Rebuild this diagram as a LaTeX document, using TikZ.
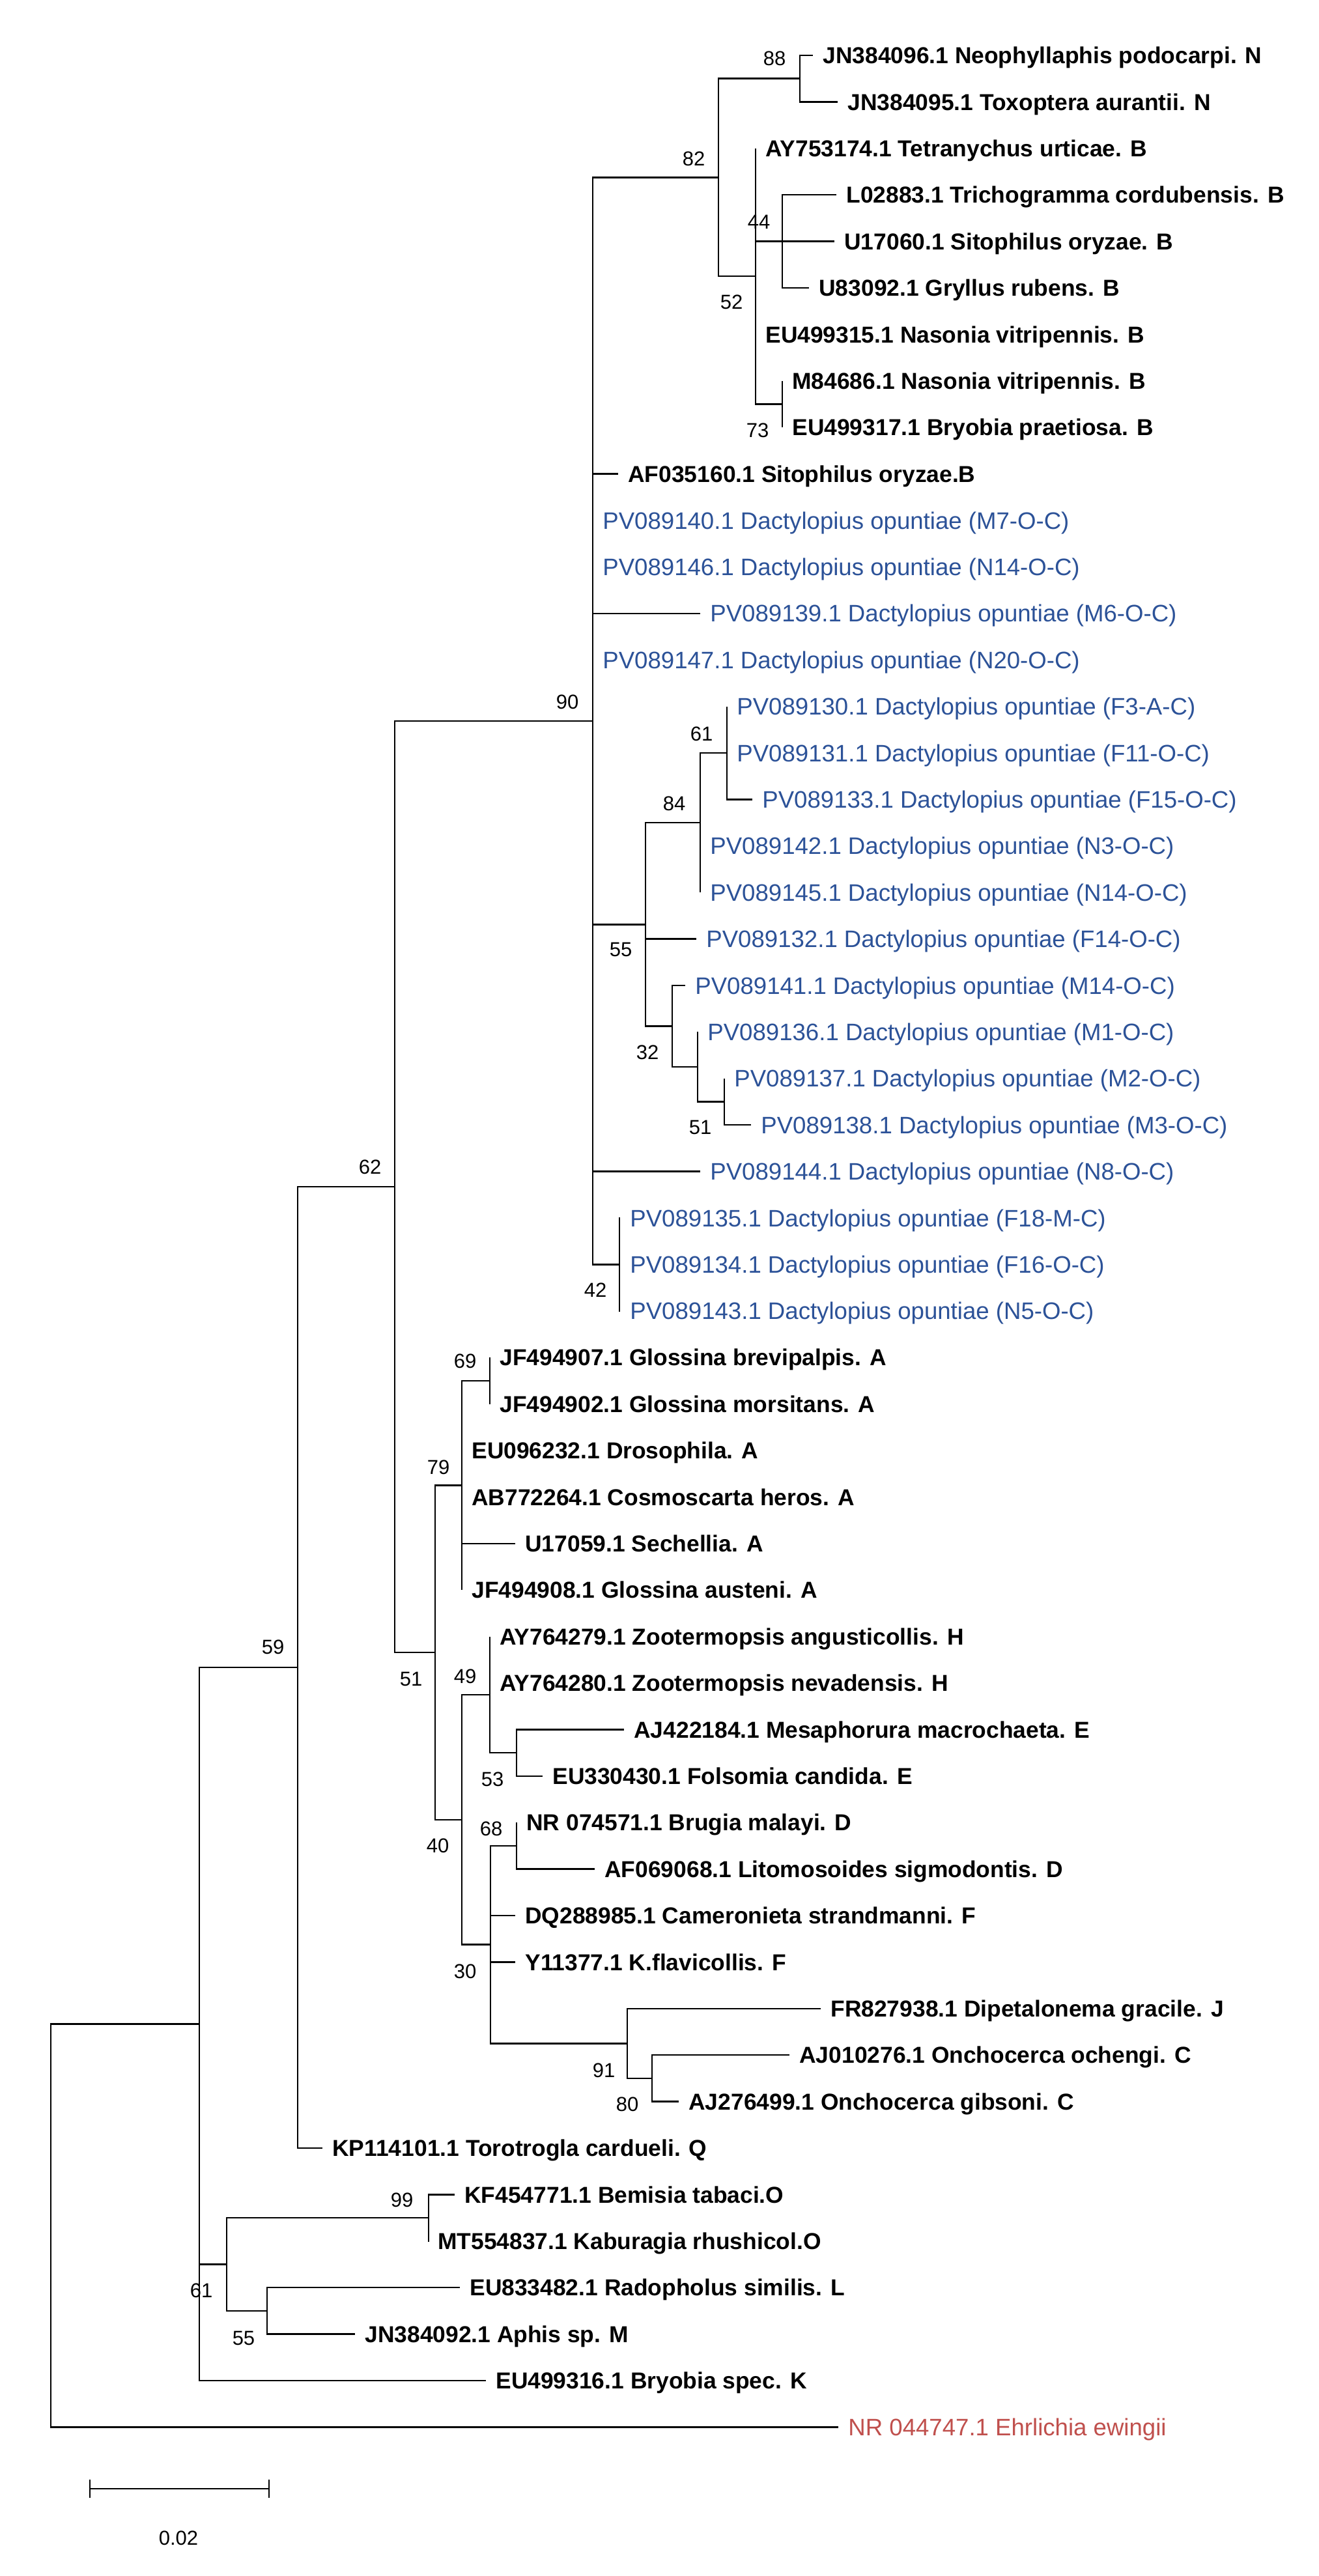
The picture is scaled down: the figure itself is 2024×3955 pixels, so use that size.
\documentclass[tikz,border=0pt]{standalone}
\usepackage{fontspec}
\setmainfont{Liberation Sans}
\definecolor{dblue}{RGB}{44,82,152}
\definecolor{dred}{RGB}{192,80,77}
\begin{document}
\begin{tikzpicture}[x=0.5pt,y=-0.5pt,
  br/.style={line width=1.2pt, black},
  leafb/.style={anchor=west, inner sep=0pt, font=\fontsize{17.7pt}{20pt}\selectfont\bfseries, text height=12.7pt, text depth=0pt},
  leafc/.style={anchor=west, inner sep=0pt, font=\fontsize{18.3pt}{20pt}\selectfont, text=dblue, text height=13.1pt, text depth=0pt},
  leafr/.style={anchor=west, inner sep=0pt, font=\fontsize{18.3pt}{20pt}\selectfont, text=dred, text height=13.1pt, text depth=0pt},
  boot/.style={anchor=center, inner sep=0pt, font=\fontsize{15.5pt}{18pt}\selectfont, text height=11.1pt, text depth=0pt}]
\useasboundingbox[fill=white] (0,0) rectangle (2024,3955);

% internal nodes
\coordinate (root) at (78,3417.0);
\coordinate (nC) at (306,3107.5);
\coordinate (n59) at (457,2560.0);
\coordinate (n62) at (606,1822.0);
\coordinate (n90) at (910,1106.9);
\coordinate (n82) at (1103,272.4);
\coordinate (n88) at (1228,120.7);
\coordinate (n52) at (1160,424.15);
\coordinate (n44) at (1201,370.6);
\coordinate (n73) at (1201,620.5);
\coordinate (n61a) at (1116,1156.0);
\coordinate (n84) at (1075,1263.1);
\coordinate (n55a) at (991,1419.3);
\coordinate (n32) at (1032,1575.5);
\coordinate (nX) at (1071,1637.95);
\coordinate (n51a) at (1112,1691.5);
\coordinate (n42) at (951,1941.4);
\coordinate (n51b) at (668,2537.1);
\coordinate (n79) at (709,2280.55);
\coordinate (n69) at (752,2119.9);
\coordinate (n40) at (709,2793.7);
\coordinate (n49) at (752,2601.85);
\coordinate (n53) at (793,2691.1);
\coordinate (n30) at (753,2985.6);
\coordinate (n68) at (793,2833.9);
\coordinate (n91) at (963,3137.35);
\coordinate (n80) at (1001,3190.9);
\coordinate (n61b) at (348,3476.5);
\coordinate (n99) at (658,3405.1);
\coordinate (n55b) at (410,3547.9);

% leaves
\node[leafb] (L1) at (1263,85.0) {JN384096.1 Neophyllaphis podocarpi. N};
\node[leafb] (L2) at (1301,156.4) {JN384095.1 Toxoptera aurantii. N};
\node[leafb] (L3) at (1175,227.8) {AY753174.1 Tetranychus urticae. B};
\node[leafb] (L4) at (1299,299.2) {L02883.1 Trichogramma cordubensis. B};
\node[leafb] (L5) at (1296,370.6) {U17060.1 Sitophilus oryzae. B};
\node[leafb] (L6) at (1257,442.0) {U83092.1 Gryllus rubens. B};
\node[leafb] (L7) at (1175,513.4) {EU499315.1 Nasonia vitripennis. B};
\node[leafb] (L8) at (1216,584.8) {M84686.1 Nasonia vitripennis. B};
\node[leafb] (L9) at (1216,656.2) {EU499317.1 Bryobia praetiosa. B};
\node[leafb] (L10) at (964,727.6) {AF035160.1 Sitophilus oryzae.B};
\node[leafc] (L11) at (925,799.0) {PV089140.1 Dactylopius opuntiae (M7-O-C)};
\node[leafc] (L12) at (925,870.4) {PV089146.1 Dactylopius opuntiae (N14-O-C)};
\node[leafc] (L13) at (1090,941.8) {PV089139.1 Dactylopius opuntiae (M6-O-C)};
\node[leafc] (L14) at (925,1013.2) {PV089147.1 Dactylopius opuntiae (N20-O-C)};
\node[leafc] (L15) at (1131,1084.6) {PV089130.1 Dactylopius opuntiae (F3-A-C)};
\node[leafc] (L16) at (1131,1156.0) {PV089131.1 Dactylopius opuntiae (F11-O-C)};
\node[leafc] (L17) at (1170,1227.4) {PV089133.1 Dactylopius opuntiae (F15-O-C)};
\node[leafc] (L18) at (1090,1298.8) {PV089142.1 Dactylopius opuntiae (N3-O-C)};
\node[leafc] (L19) at (1090,1370.2) {PV089145.1 Dactylopius opuntiae (N14-O-C)};
\node[leafc] (L20) at (1084,1441.6) {PV089132.1 Dactylopius opuntiae (F14-O-C)};
\node[leafc] (L21) at (1067,1513.0) {PV089141.1 Dactylopius opuntiae (M14-O-C)};
\node[leafc] (L22) at (1086,1584.4) {PV089136.1 Dactylopius opuntiae (M1-O-C)};
\node[leafc] (L23) at (1127,1655.8) {PV089137.1 Dactylopius opuntiae (M2-O-C)};
\node[leafc] (L24) at (1168,1727.2) {PV089138.1 Dactylopius opuntiae (M3-O-C)};
\node[leafc] (L25) at (1090,1798.6) {PV089144.1 Dactylopius opuntiae (N8-O-C)};
\node[leafc] (L26) at (967,1870.0) {PV089135.1 Dactylopius opuntiae (F18-M-C)};
\node[leafc] (L27) at (967,1941.4) {PV089134.1 Dactylopius opuntiae (F16-O-C)};
\node[leafc] (L28) at (967,2012.8) {PV089143.1 Dactylopius opuntiae (N5-O-C)};
\node[leafb] (L29) at (767,2084.2) {JF494907.1 Glossina brevipalpis. A};
\node[leafb] (L30) at (767,2155.6) {JF494902.1 Glossina morsitans. A};
\node[leafb] (L31) at (724,2227.0) {EU096232.1 Drosophila. A};
\node[leafb] (L32) at (724,2298.4) {AB772264.1 Cosmoscarta heros. A};
\node[leafb] (L33) at (806,2369.8) {U17059.1 Sechellia. A};
\node[leafb] (L34) at (724,2441.2) {JF494908.1 Glossina austeni. A};
\node[leafb] (L35) at (767,2512.6) {AY764279.1 Zootermopsis angusticollis. H};
\node[leafb] (L36) at (767,2584.0) {AY764280.1 Zootermopsis nevadensis. H};
\node[leafb] (L37) at (973,2655.4) {AJ422184.1 Mesaphorura macrochaeta. E};
\node[leafb] (L38) at (848,2726.8) {EU330430.1 Folsomia candida. E};
\node[leafb] (L39) at (808,2798.2) {NR 074571.1 Brugia malayi. D};
\node[leafb] (L40) at (928,2869.6) {AF069068.1 Litomosoides sigmodontis. D};
\node[leafb] (L41) at (806,2941.0) {DQ288985.1 Cameronieta strandmanni. F};
\node[leafb] (L42) at (806,3012.4) {Y11377.1 K.flavicollis. F};
\node[leafb] (L43) at (1275,3083.8) {FR827938.1 Dipetalonema gracile. J};
\node[leafb] (L44) at (1227,3155.2) {AJ010276.1 Onchocerca ochengi. C};
\node[leafb] (L45) at (1057,3226.6) {AJ276499.1 Onchocerca gibsoni. C};
\node[leafb] (L46) at (510,3298.0) {KP114101.1 Torotrogla cardueli. Q};
\node[leafb] (L47) at (713,3369.4) {KF454771.1 Bemisia tabaci.O};
\node[leafb] (L48) at (672,3440.8) {MT554837.1 Kaburagia rhushicol.O};
\node[leafb] (L49) at (721,3512.2) {EU833482.1 Radopholus similis. L};
\node[leafb] (L50) at (560,3583.6) {JN384092.1 Aphis sp. M};
\node[leafb] (L51) at (761,3655.0) {EU499316.1 Bryobia spec. K};
\node[leafr] (L52) at (1302,3726.4) {NR 044747.1 Ehrlichia ewingii};

% internal branches
\draw[br] (root) |- (nC);
\draw[br] (nC) |- (n59);
\draw[br] (nC) |- (n61b);
\draw[br] (n59) |- (n62);
\draw[br] (n62) |- (n90);
\draw[br] (n62) |- (n51b);
\draw[br] (n90) |- (n82);
\draw[br] (n90) |- (n55a);
\draw[br] (n90) |- (n42);
\draw[br] (n82) |- (n88);
\draw[br] (n82) |- (n52);
\draw[br] (n52) |- (n44);
\draw[br] (n52) |- (n73);
\draw[br] (n55a) |- (n84);
\draw[br] (n55a) |- (n32);
\draw[br] (n84) |- (n61a);
\draw[br] (n32) |- (nX);
\draw[br] (nX) |- (n51a);
\draw[br] (n51b) |- (n79);
\draw[br] (n51b) |- (n40);
\draw[br] (n79) |- (n69);
\draw[br] (n40) |- (n49);
\draw[br] (n40) |- (n30);
\draw[br] (n49) |- (n53);
\draw[br] (n30) |- (n68);
\draw[br] (n30) |- (n91);
\draw[br] (n91) |- (n80);
\draw[br] (n61b) |- (n99);
\draw[br] (n61b) |- (n55b);

% leaf branches
\foreach \p/\l in {n88/L1, n88/L2, n52/L3, n44/L4, n44/L5, n44/L6, n52/L7, n73/L8, n73/L9,
  n90/L10, n90/L11, n90/L12, n90/L13, n90/L14, n61a/L15, n61a/L16, n61a/L17, n84/L18, n84/L19,
  n55a/L20, n32/L21, nX/L22, n51a/L23, n51a/L24, n90/L25, n42/L26, n42/L27, n42/L28,
  n69/L29, n69/L30, n79/L31, n79/L32, n79/L33, n79/L34, n49/L35, n49/L36, n53/L37, n53/L38,
  n68/L39, n68/L40, n30/L41, n30/L42, n91/L43, n80/L44, n80/L45, n59/L46, n99/L47, n99/L48,
  n55b/L49, n55b/L50, nC/L51, root/L52}
  \draw[br] (\p) |- ([xshift=-7.5pt]\l.west);

% bootstrap values
\node[boot] (b88) at (1189,89) {88};
\node[boot] (b82) at (1065,243) {82};
\node[boot] (b44) at (1165,340) {44};
\node[boot] (b52) at (1123,463) {52};
\node[boot] (b73) at (1163,660) {73};
\node[boot] (b90) at (871,1077) {90};
\node[boot] (b61a) at (1077,1126) {61};
\node[boot] (b84) at (1035,1233) {84};
\node[boot] (b55a) at (953,1457) {55};
\node[boot] (b32) at (994,1615) {32};
\node[boot] (b51a) at (1075,1730) {51};
\node[boot] (b42) at (914,1980) {42};
\node[boot] (b62) at (568,1791) {62};
\node[boot] (b69) at (714,2089) {69};
\node[boot] (b79) at (673,2252) {79};
\node[boot] (b51b) at (631,2577) {51};
\node[boot] (b49) at (714,2573) {49};
\node[boot] (b53) at (756,2731) {53};
\node[boot] (b68) at (754,2807) {68};
\node[boot] (b40) at (672,2833) {40};
\node[boot] (b30) at (714,3026) {30};
\node[boot] (b91) at (927,3178) {91};
\node[boot] (b80) at (963,3230) {80};
\node[boot] (b59) at (419,2528) {59};
\node[boot] (b99) at (617,3377) {99};
\node[boot] (b61b) at (309,3516) {61};
\node[boot] (b55b) at (374,3589) {55};

% scale bar
\coordinate (sbL) at (138,3821);
\coordinate (sbR) at (413,3821);
\draw[br] (sbL) -- (sbR);
\draw[br] ([yshift=7pt]sbL) -- ([yshift=-7pt]sbL);
\draw[br] ([yshift=7pt]sbR) -- ([yshift=-7pt]sbR);
\node[boot] (sblab) at (274,3896) {0.02};
\end{tikzpicture}
\end{document}
